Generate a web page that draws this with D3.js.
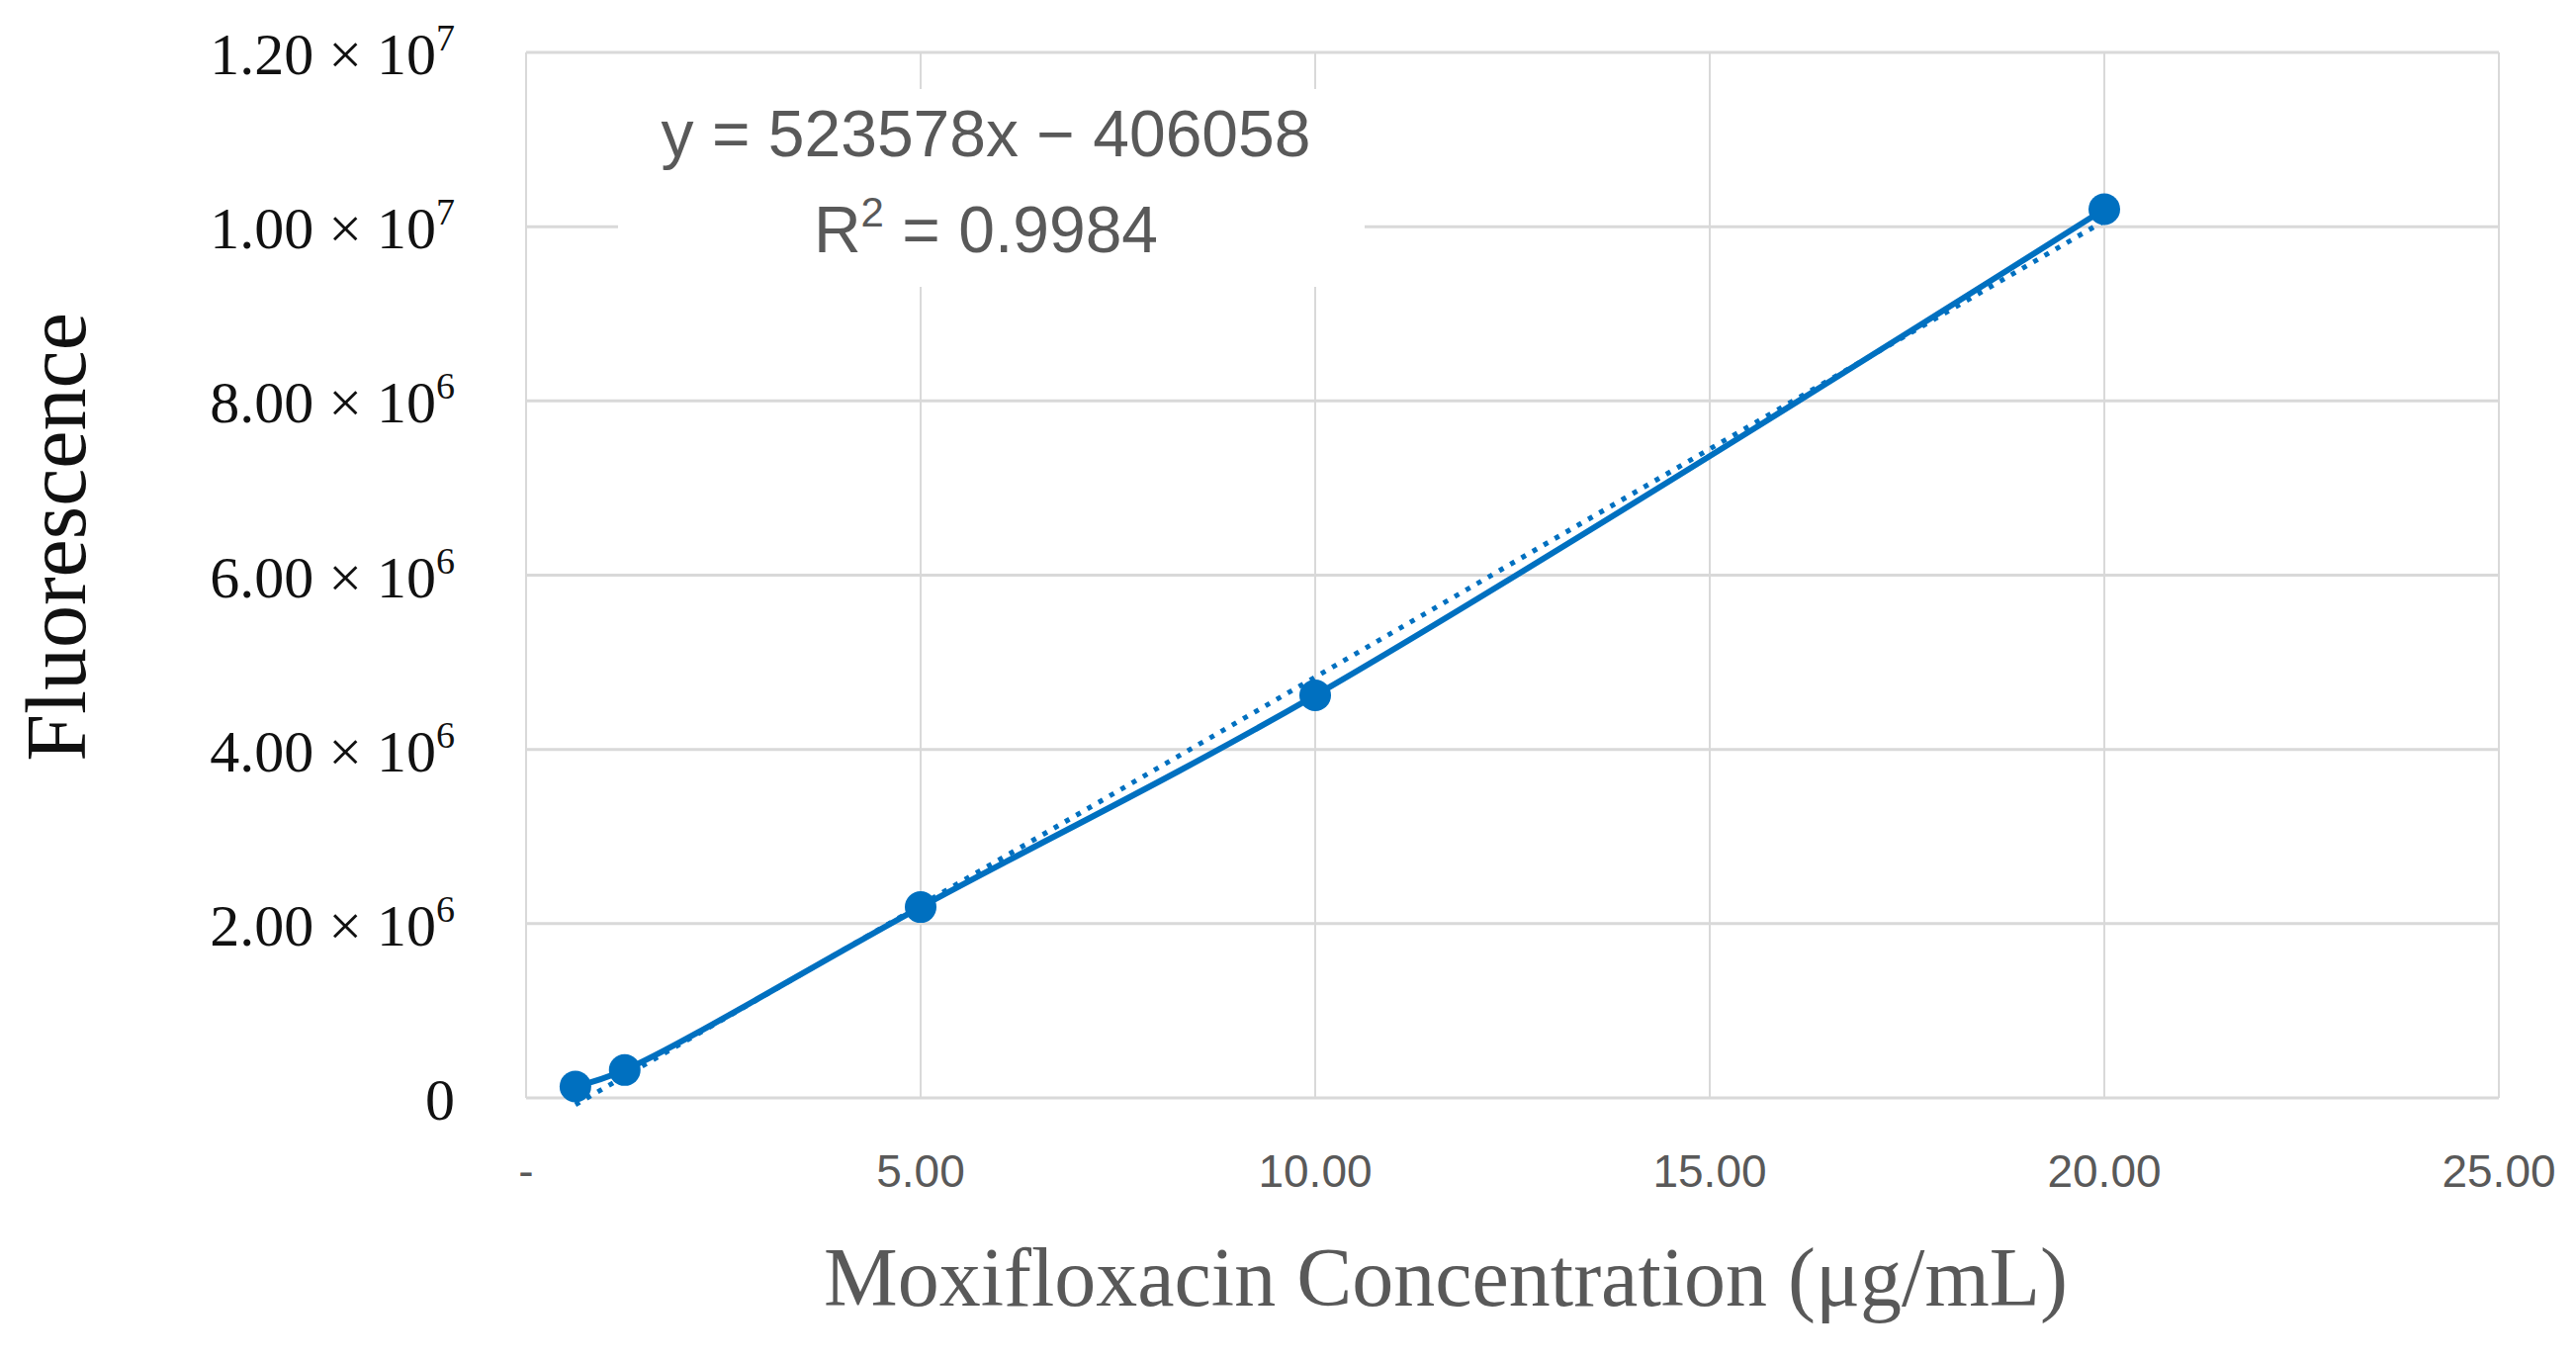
<!DOCTYPE html>
<html><head><meta charset="utf-8">
<script src="https://cdn.jsdelivr.net/npm/d3@7"></script>
<style>body{margin:0;background:#fff}</style>
</head><body><div id="chart"></div>
<script>
// measured data points
var conc = [0.625, 1.25, 5, 10, 20];
var fluor = [0.13e6, 0.32e6, 2.19e6, 4.62e6, 10.2e6];
var xTicks = [0, 5, 10, 15, 20, 25];
var xTickLabels = ["-", "5.00", "10.00", "15.00", "20.00", "25.00"];
var yTicks = [0, 2e6, 4e6, 6e6, 8e6, 10e6, 12e6];
var yMant = ["0", "2.00", "4.00", "6.00", "8.00", "1.00", "1.20"];
var yExp = ["", "6", "6", "6", "6", "7", "7"];
var slope = 523578, intercept = -406058;

var width = 2605, height = 1376;
var margin = { top: 53, right: 78, bottom: 266, left: 532 };

var svg = d3.select("#chart").append("svg")
  .attr("width", width).attr("height", height);

var x = d3.scaleLinear().domain([0, 25]).range([margin.left, width - margin.right]);
var y = d3.scaleLinear().domain([0, 12e6]).range([height - margin.bottom, margin.top]);

// gridlines
svg.append("g").selectAll("line.h").data(yTicks).enter().append("line")
  .attr("x1", x(0)).attr("x2", x(25))
  .attr("y1", d => y(d)).attr("y2", d => y(d))
  .attr("stroke", "#d9d9d9").attr("stroke-width", 3);
svg.append("g").selectAll("line.v").data(xTicks).enter().append("line")
  .attr("x1", d => x(d)).attr("x2", d => x(d))
  .attr("y1", y(0)).attr("y2", y(12e6))
  .attr("stroke", "#d9d9d9").attr("stroke-width", 2);

// y tick labels
var yl = svg.append("g").selectAll("text").data(yTicks).enter().append("text")
  .attr("x", margin.left - 72).attr("y", d => y(d) + 22)
  .attr("text-anchor", "end")
  .attr("font-family", "Liberation Serif, serif").attr("font-size", 60).attr("fill", "#111");
yl.append("tspan").text((d, i) => yMant[i] + (yExp[i] ? " × 10" : ""));
yl.append("tspan").attr("dy", -24).attr("font-size", 38).text((d, i) => yExp[i]);

// x tick labels
svg.append("g").selectAll("text").data(xTicks).enter().append("text")
  .attr("x", d => x(d)).attr("y", y(0) + 90)
  .attr("text-anchor", "middle")
  .attr("font-family", "Liberation Sans Narrow, Liberation Sans, sans-serif")
  .attr("font-size", 46).attr("fill", "#595959")
  .text((d, i) => xTickLabels[i]);

// axis titles
svg.append("text").attr("x", 1462).attr("y", 1320)
  .attr("text-anchor", "middle").attr("font-family", "Liberation Serif, serif")
  .attr("font-size", 84).attr("fill", "#595959")
  .text("Moxifloxacin Concentration  (μg/mL)");
svg.append("text").attr("transform", "translate(86,543) rotate(-90)")
  .attr("text-anchor", "middle").attr("font-family", "Liberation Serif, serif")
  .attr("font-size", 86).attr("fill", "#111").text("Fluorescence");

// trendline (dotted)
svg.append("line")
  .attr("x1", x(conc[0])).attr("y1", y(slope * conc[0] + intercept))
  .attr("x2", x(20)).attr("y2", y(slope * 20 + intercept))
  .attr("stroke", "#0070C0").attr("stroke-width", 5)
  .attr("stroke-dasharray", "5 8");

// smoothed series line
var pts = conc.map((c, i) => [c, fluor[i]]);
svg.append("path").datum(pts)
  .attr("d", d3.line().x(d => x(d[0])).y(d => y(d[1])).curve(d3.curveCatmullRom.alpha(0.5)))
  .attr("fill", "none").attr("stroke", "#0070C0").attr("stroke-width", 6);
svg.append("g").selectAll("circle").data(pts).enter().append("circle")
  .attr("cx", d => x(d[0])).attr("cy", d => y(d[1])).attr("r", 16)
  .attr("fill", "#0070C0");

// equation label
svg.append("rect").attr("x", 625).attr("y", 90).attr("width", 755).attr("height", 200)
  .attr("fill", "#fff");
var eq = svg.append("g").attr("font-family", "Liberation Sans, sans-serif")
  .attr("font-size", 66).attr("fill", "#595959").attr("text-anchor", "middle");
eq.append("text").attr("x", 997).attr("y", 158).text("y = 523578x − 406058");
var r2 = eq.append("text").attr("x", 997).attr("y", 255);
r2.append("tspan").text("R");
r2.append("tspan").attr("dy", -26).attr("font-size", 42).text("2");
r2.append("tspan").attr("dy", 26).text(" = 0.9984");
</script>
</body></html>
